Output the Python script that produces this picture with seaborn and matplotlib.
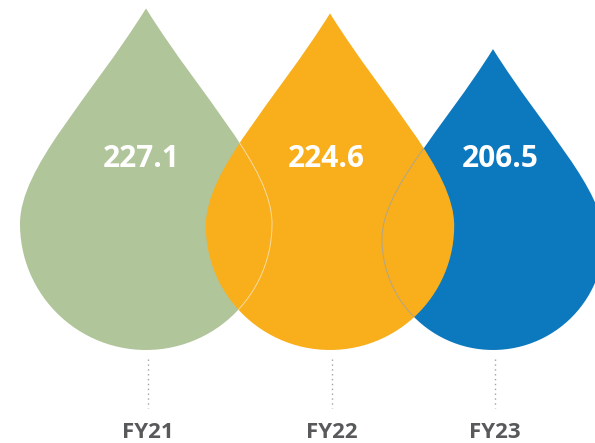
import numpy as np
import matplotlib.pyplot as plt
import seaborn as sns
from matplotlib.path import Path
from matplotlib.patches import PathPatch

years = ["FY21", "FY22", "FY23"]
values = [227.1, 224.6, 206.5]
colors = ["#b1c59b", "#f9ae1c", "#0c78be"]

# layout (pixel-like units, y grows downwards)
x_centers = [146, 330, 493]
label_x = [141, 326, 500]
base_y = 350


def radius(v):
    # drop size follows the value
    return 0.728 * v - 39.3


def drop_path(cx, bottom, r):
    # teardrop in unit coords: circle at origin, tip above
    tip = 1.71
    arc = np.linspace(0, -np.pi, 60)
    verts = [(0, tip), (0.45, 0.99), (1, 0.45), (1, 0)]
    codes = [Path.MOVETO, Path.CURVE4, Path.CURVE4, Path.CURVE4]
    for a in arc[1:]:
        verts.append((np.cos(a), np.sin(a)))
        codes.append(Path.LINETO)
    verts += [(-1, 0.45), (-0.45, 0.99), (0, tip), (0, tip)]
    codes += [Path.CURVE4, Path.CURVE4, Path.CURVE4, Path.CLOSEPOLY]
    cy = bottom - r
    pts = [(cx + r * x, cy - r * y) for x, y in verts]
    return Path(pts, codes)


sns.set_theme(style="white")
plt.rcParams['font.family'] = ['Open Sans', 'DejaVu Sans']

fig = plt.figure(figsize=(5.95, 4.43), dpi=100)
ax = fig.add_axes([0, 0, 1, 1])
ax.set_xlim(0, 595)
ax.set_ylim(443, 0)
ax.axis("off")

paths = [drop_path(x, base_y, radius(v)) for x, v in zip(x_centers, values)]
order = {0: 1, 2: 2, 1: 3}  # FY22 sits on top
patches = []
for i, p in enumerate(paths):
    patch = PathPatch(p, facecolor=colors[i], edgecolor="none", zorder=order[i])
    ax.add_patch(patch)
    patches.append(patch)

# faint outlines of the hidden drop edges showing through FY22
for i, c in [(0, "#f6dca0"), (2, "#b0a68a")]:
    ghost = PathPatch(paths[i], facecolor="none", edgecolor=c, lw=0.7, zorder=4)
    ax.add_patch(ghost)
    ghost.set_clip_path(patches[1])

for i, v in enumerate(values):
    ax.text(label_x[i], 159, f"{v:.1f}", color="white", fontsize=21.5,
            fontweight="bold", ha="center", va="center", zorder=5)
    ax.plot([x_centers[i] + 2, x_centers[i] + 2], [359, 408], color="#a0a2a5",
            lw=1, ls=(0, (1, 2.5)), zorder=1)
    ax.text(x_centers[i] + 2, 432, years[i], color="#58595b", fontsize=16,
            fontweight="bold", ha="center", va="center")

fig.savefig("out.png", dpi=100)
